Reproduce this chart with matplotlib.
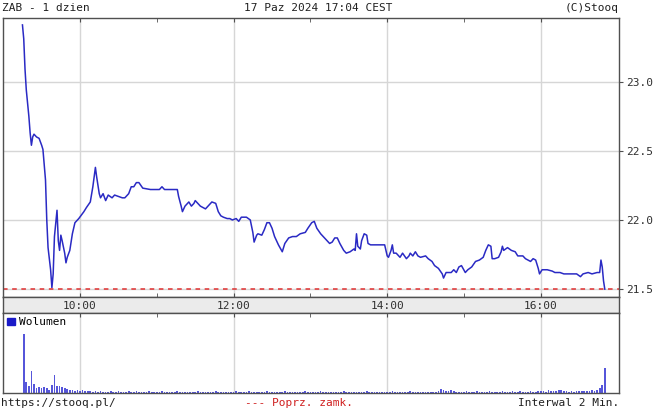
import numpy as np
import matplotlib
matplotlib.use("Agg")
import matplotlib.pyplot as plt
from matplotlib.patches import Patch
from matplotlib.transforms import blended_transform_factory

# price path, 17 Oct 2024
times = [
    "09:15", "09:16", "09:17", "09:18", "09:20", "09:21", "09:22", "09:23", "09:24", "09:26",
    "09:28", "09:30", "09:31", "09:33", "09:34", "09:35", "09:37", "09:38", "09:39", "09:40",
    "09:42", "09:43", "09:44", "09:45", "09:46", "09:48", "09:49", "09:50", "09:52", "09:54",
    "09:56", "09:59", "10:03", "10:05", "10:08", "10:10", "10:12", "10:13", "10:15", "10:16",
    "10:18", "10:20", "10:22", "10:25", "10:27", "10:30", "10:33", "10:35", "10:38", "10:40",
    "10:42", "10:44", "10:46", "10:49", "10:55", "11:02", "11:04", "11:06", "11:10", "11:16",
    "11:17", "11:19", "11:20", "11:22", "11:25", "11:27", "11:29", "11:30", "11:32", "11:34",
    "11:38", "11:40", "11:43", "11:46", "11:48", "11:50", "11:52", "11:55", "11:57", "11:59",
    "12:02", "12:04", "12:06", "12:10", "12:13", "12:15", "12:16", "12:18", "12:19", "12:22",
    "12:24", "12:26", "12:28", "12:30", "12:32", "12:35", "12:38", "12:40", "12:43", "12:46",
    "12:49", "12:52", "12:56", "12:58", "13:01", "13:03", "13:05", "13:08", "13:10", "13:13",
    "13:15", "13:17", "13:19", "13:21", "13:23", "13:26", "13:28", "13:31", "13:34", "13:35",
    "13:36", "13:37", "13:39", "13:40", "13:42", "13:44", "13:45", "13:47", "13:58", "14:00",
    "14:01", "14:03", "14:04", "14:05", "14:07", "14:10", "14:12", "14:15", "14:17", "14:18",
    "14:20", "14:22", "14:24", "14:26", "14:30", "14:32", "14:35", "14:37", "14:40", "14:43",
    "14:44", "14:46", "14:48", "14:50", "14:52", "14:54", "14:56", "14:58", "15:01", "15:03",
    "15:06", "15:09", "15:12", "15:15", "15:17", "15:19", "15:21", "15:22", "15:24", "15:27",
    "15:29", "15:30", "15:31", "15:34", "15:37", "15:40", "15:42", "15:46", "15:48", "15:52",
    "15:54", "15:56", "15:58", "15:59", "16:01", "16:05", "16:09", "16:11", "16:15", "16:18",
    "16:20", "16:24", "16:28", "16:31", "16:33", "16:37", "16:40", "16:44", "16:46", "16:47",
    "16:48", "16:49", "16:50",
]
prices = [
    23.41, 23.31, 23.09, 22.94, 22.75, 22.63, 22.54, 22.60, 22.62, 22.60,
    22.59, 22.54, 22.51, 22.29, 22.00, 21.80, 21.64, 21.51, 21.61, 21.88,
    22.07, 21.85, 21.78, 21.89, 21.85, 21.76, 21.69, 21.73, 21.78, 21.90,
    21.98, 22.01, 22.06, 22.09, 22.13, 22.24, 22.38, 22.31, 22.19, 22.16,
    22.19, 22.14, 22.18, 22.16, 22.18, 22.17, 22.16, 22.16, 22.19, 22.24,
    22.24, 22.27, 22.27, 22.23, 22.22, 22.22, 22.24, 22.22, 22.22, 22.22,
    22.17, 22.10, 22.06, 22.10, 22.13, 22.10, 22.12, 22.14, 22.12, 22.10,
    22.08, 22.10, 22.13, 22.12, 22.06, 22.03, 22.02, 22.01, 22.01, 22.00,
    22.01, 21.99, 22.02, 22.02, 22.00, 21.91, 21.84, 21.89, 21.90, 21.89,
    21.93, 21.98, 21.98, 21.94, 21.88, 21.82, 21.77, 21.83, 21.87, 21.88,
    21.88, 21.90, 21.91, 21.94, 21.98, 21.99, 21.94, 21.90, 21.88, 21.85,
    21.83, 21.84, 21.87, 21.87, 21.83, 21.78, 21.76, 21.77, 21.79, 21.78,
    21.90, 21.81, 21.79, 21.85, 21.90, 21.89, 21.83, 21.82, 21.82, 21.74,
    21.73, 21.78, 21.82, 21.76, 21.76, 21.73, 21.76, 21.72, 21.74, 21.76,
    21.74, 21.77, 21.74, 21.73, 21.74, 21.72, 21.70, 21.67, 21.65, 21.61,
    21.58, 21.62, 21.62, 21.62, 21.64, 21.62, 21.66, 21.67, 21.62, 21.64,
    21.66, 21.70, 21.71, 21.73, 21.78, 21.82, 21.81, 21.72, 21.72, 21.73,
    21.77, 21.81, 21.78, 21.80, 21.78, 21.77, 21.74, 21.74, 21.72, 21.70,
    21.72, 21.71, 21.65, 21.61, 21.64, 21.64, 21.63, 21.62, 21.62, 21.61,
    21.61, 21.61, 21.61, 21.59, 21.61, 21.62, 21.61, 21.62, 21.62, 21.71,
    21.66, 21.56, 21.50,
]
prev_close = 21.50

# volume, 2 minute bars from 09:16 to 16:50 (relative units)
vol_start = "09:16"
vol_step = 2
volume = [
    580, 110, 70, 220, 90, 50, 60, 50, 60, 50, 30, 80, 180, 70, 70, 60, 50, 40, 25, 30, 20, 25,
    20, 25, 15, 20, 15, 10, 15, 10, 15, 10, 10, 10, 20, 10, 10, 15, 10, 10, 10, 15, 10, 10, 15, 10, 10, 10, 10, 15, 10, 10,
    10, 10, 15, 10, 10, 10, 10, 10, 15, 10, 10, 10, 10, 10, 10, 10, 20, 10, 10, 10, 10, 10, 10, 15, 10, 10, 10, 10, 10, 10,
    10, 15, 10, 10, 10, 10, 15, 10, 10, 10, 10, 10, 10, 15, 10, 10, 10, 10, 10, 10, 15, 10, 10, 10, 10, 10, 10, 10, 15, 10,
    10, 10, 10, 10, 15, 10, 10, 10, 10, 10, 10, 10, 10, 15, 10, 10, 10, 10, 10, 10, 10, 10, 15, 10, 10, 10, 10, 10, 10, 10,
    10, 10, 15, 10, 10, 10, 10, 10, 10, 15, 10, 10, 10, 10, 10, 10, 10, 10, 10, 10, 20, 35, 30, 20, 15, 25, 15, 10, 10, 10,
    10, 15, 10, 10, 10, 15, 10, 10, 10, 10, 15, 10, 10, 10, 10, 15, 10, 10, 10, 15, 10, 10, 15, 10, 10, 10, 15, 10, 10, 15,
    15, 20, 10, 25, 15, 20, 15, 30, 25, 20, 15, 10, 15, 10, 20, 15, 15, 20, 15, 20, 25, 20, 30, 50, 80, 250,
]

hour_labels = ["10:00", "12:00", "14:00", "16:00"]
y_ticks = [21.5, 22.0, 22.5, 23.0]


def to_min(t):
    h, m = t.split(":")
    return (int(h) - 9) * 60 + int(m)


x = [to_min(t) for t in times]
vx = to_min(vol_start) + vol_step * np.arange(len(volume))

W, H = 654, 409
LINE = "#2a2ac4"
EDGE = "#505050"
GRID = "#d6d6d6"
plt.rcParams["font.family"] = "DejaVu Sans Mono"
plt.rcParams["font.size"] = 8


def box(top, bottom):
    return [3 / W, 1 - bottom / H, 616 / W, (bottom - top) / H]


fig = plt.figure(figsize=(W / 100, H / 100), dpi=100)
ax = fig.add_axes(box(18, 297))
strip = fig.add_axes(box(297, 313))
axv = fig.add_axes(box(313, 393))

xmin, xmax = -0.2, 481.1
major = [to_min(h) for h in hour_labels]
minor = [to_min(h) for h in ["11:00", "13:00", "15:00"]]

for a in (ax, strip, axv):
    a.set_xlim(xmin, xmax)
    for s in a.spines.values():
        s.set_color(EDGE)
        s.set_linewidth(1)

# price panel
ax.plot(x, prices, color=LINE, lw=1.1)
ax.axhline(prev_close, color="#e03030", lw=1.1, ls=(0, (3, 3)))
ax.set_ylim(21.443, 23.46)
ax.set_yticks(y_ticks)
ax.set_yticklabels(["%.1f" % v for v in y_ticks])
ax.yaxis.tick_right()
ax.tick_params(axis="y", direction="out", length=3, pad=2, color=EDGE, labelcolor="#303030")
ax.set_xticks(major)
ax.set_xticks(minor, minor=True)
ax.tick_params(axis="x", which="both", direction="in", length=3, top=True, bottom=True,
               labelbottom=False, color=EDGE)
ax.grid(True, which="major", color=GRID, lw=1)
ax.set_axisbelow(True)

# time strip
strip.set_facecolor("#ebebeb")
strip.set_yticks([])
strip.set_xticks([])
tr = blended_transform_factory(strip.transData, strip.transAxes)
for m, lab in zip(major, hour_labels):
    strip.text(m, 0.45, lab, transform=tr, ha="center", va="center", color="#303030")

# volume panel
axv.bar(vx, volume, width=1.3, color="#5656da", linewidth=0)
axv.set_ylim(0, 790)
axv.set_yticks([])
axv.set_xticks(major)
axv.set_xticks(minor, minor=True)
axv.tick_params(axis="x", which="both", direction="in", length=3, top=True, bottom=False,
                labelbottom=False, color=EDGE)
axv.grid(True, which="major", axis="x", color=GRID, lw=1)
axv.set_axisbelow(True)
axv.legend(handles=[Patch(facecolor="#1a1ac8", edgecolor="#1a1ac8")], labels=["Wolumen"],
           loc="upper left", frameon=False, handlelength=0.7, handleheight=0.7,
           handletextpad=0.3, borderaxespad=0.2, borderpad=0.2)

# header and footer
fig.text(2 / W, 1 - 8 / H, "ZAB - 1 dzien", ha="left", va="center", color="#202020")
fig.text(318 / W, 1 - 8 / H, "17 Paz 2024 17:04 CEST", ha="center", va="center", color="#202020")
fig.text(619 / W, 1 - 8 / H, "(C)Stooq", ha="right", va="center", color="#202020")
fig.text(1 / W, 1 - 403 / H, "https://stooq.pl/", ha="left", va="center", color="#202020")
fig.text(245 / W, 1 - 403 / H, "--- Poprz. zamk.", ha="left", va="center", color="#d02020")
fig.text(619 / W, 1 - 403 / H, "Interwal 2 Min.", ha="right", va="center", color="#202020")

fig.savefig("out.png", dpi=100)
